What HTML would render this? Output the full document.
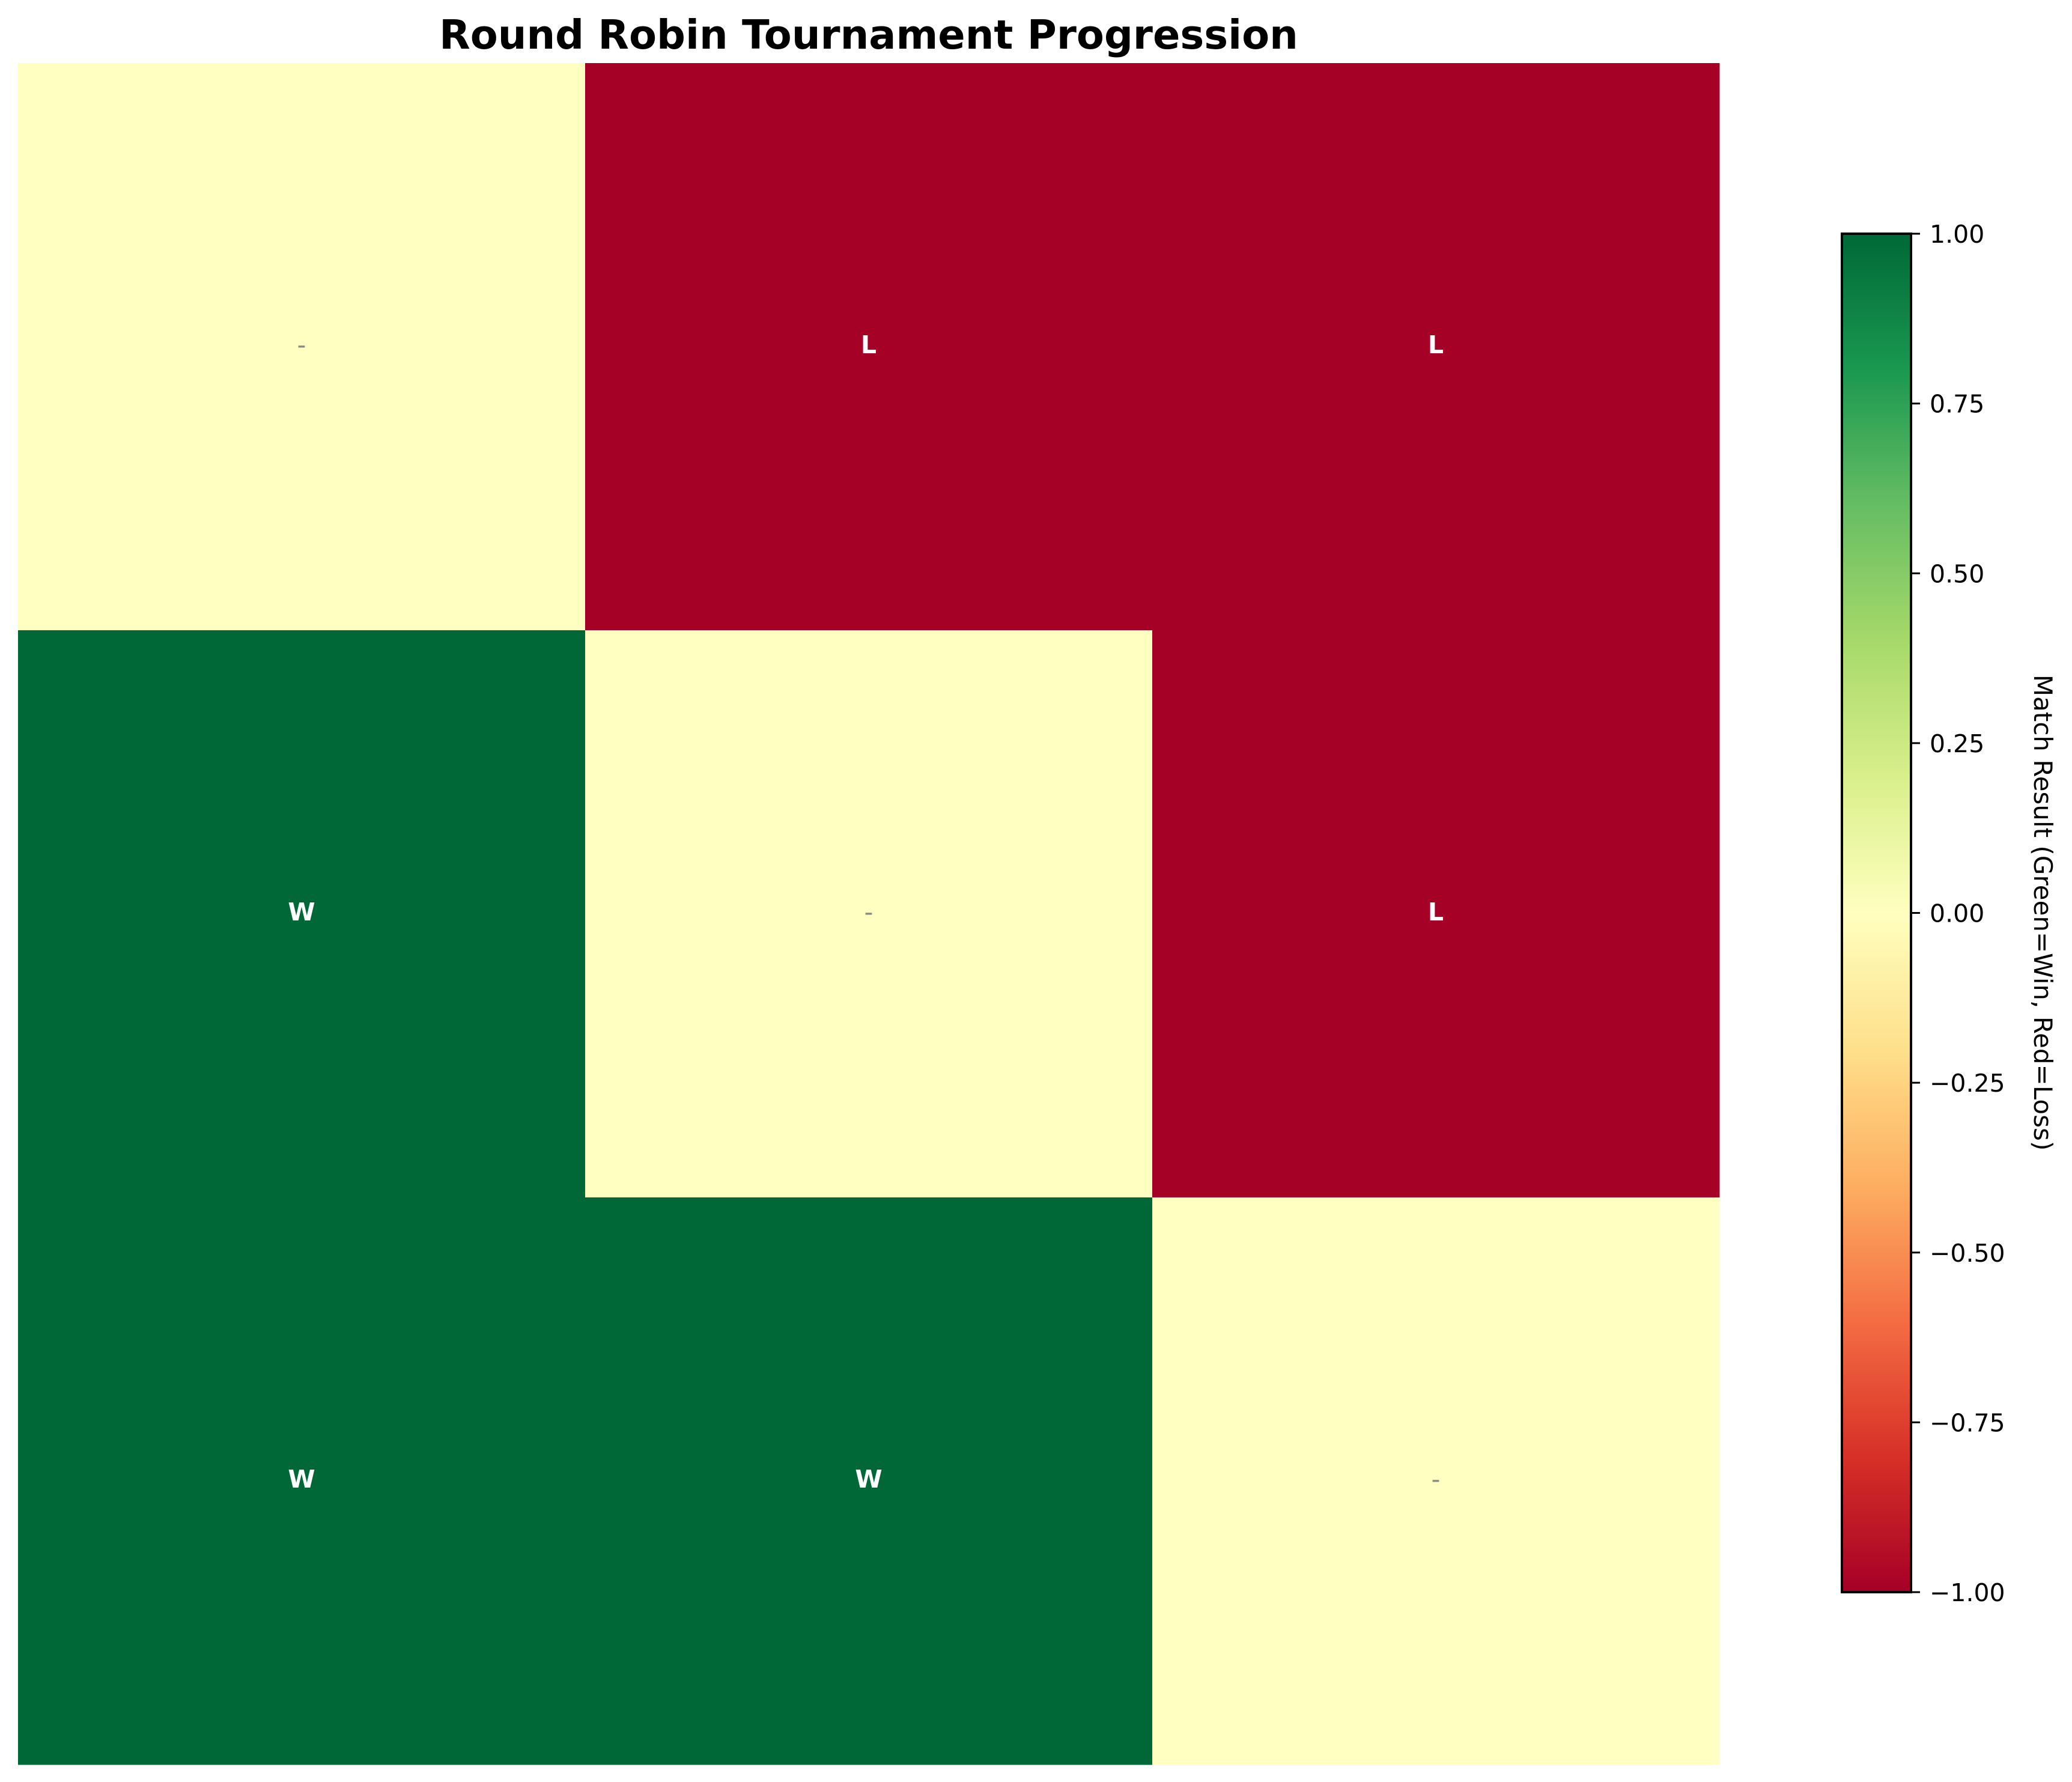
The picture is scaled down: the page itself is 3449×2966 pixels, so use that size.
<!DOCTYPE html>
<html><head><meta charset="utf-8"><style>
html,body{margin:0;padding:0;background:#fff;}
svg{display:block;font-family:"DejaVu Sans","Liberation Sans",sans-serif;}
</style></head><body>
<svg id="chart" width="3449" height="2966" viewBox="0 0 3449 2966" xmlns="http://www.w3.org/2000/svg">
<defs>
<linearGradient id="rdylgn" x1="0" y1="1" x2="0" y2="0">
<stop offset="0" stop-color="#a50026"/><stop offset="0.1" stop-color="#d73027"/>
<stop offset="0.2" stop-color="#f46d43"/><stop offset="0.3" stop-color="#fdae61"/>
<stop offset="0.4" stop-color="#fee08b"/><stop offset="0.5" stop-color="#ffffbf"/>
<stop offset="0.6" stop-color="#d9ef8b"/><stop offset="0.7" stop-color="#a6d96a"/>
<stop offset="0.8" stop-color="#66bd63"/><stop offset="0.9" stop-color="#1a9850"/>
<stop offset="1" stop-color="#006837"/>
</linearGradient>
</defs>
<text x="1446" y="81" text-anchor="middle" font-size="67" font-weight="bold">Round Robin Tournament Progression</text>
<g id="cells"></g>
<g id="cbar">
<rect x="3066" y="389" width="115" height="2261" fill="url(#rdylgn)" stroke="#000" stroke-width="4"/>
</g>
<text transform="translate(3386,1519) rotate(90)" text-anchor="middle" font-size="42">Match Result (Green=Win, Red=Loss)</text>
</svg>
<script>
const rows = [0, 1, 2];
const cols = [0, 1, 2];
const values = [[0, -1, -1], [1, 0, -1], [1, 1, 0]];
const labels = [["-", "L", "L"], ["W", "-", "L"], ["W", "W", "-"]];
const cbarTicks = [-1, -0.75, -0.5, -0.25, 0, 0.25, 0.5, 0.75, 1];

const NS = "http://www.w3.org/2000/svg";
const X0 = 30, X1 = 2862, Y0 = 105, Y1 = 2937;
const cw = (X1 - X0) / cols.length, ch = (Y1 - Y0) / rows.length;
const xPos = c => X0 + c * cw;
const yPos = r => Y0 + r * ch;
const CB0 = 389, CB1 = 2650;
const cbY = v => CB1 - (v + 1) / 2 * (CB1 - CB0);
function color(v) {
  if (v >= 0.5) return "#006837";
  if (v <= -0.5) return "#a50026";
  return "#feffc0";
}
const g = document.getElementById("cells");
rows.forEach(r => cols.forEach(c => {
  const v = values[r][c];
  const rect = document.createElementNS(NS, "rect");
  
  
  rect.setAttribute("x", xPos(c)); rect.setAttribute("y", yPos(r));
  rect.setAttribute("width", cw + 0.5); rect.setAttribute("height", ch + 0.5);
  rect.setAttribute("fill", color(v));
  g.appendChild(rect);
  const t = document.createElementNS(NS, "text");
  
  
  const isDash = labels[r][c] === "-";
  t.setAttribute("x", xPos(c) + cw / 2);
  t.setAttribute("y", yPos(r) + ch / 2 + 11);
  t.setAttribute("text-anchor", "middle");
  t.setAttribute("font-size", "41");
  t.setAttribute("font-weight", isDash ? "normal" : "bold");
  t.setAttribute("fill", isDash ? "#888888" : "#ffffff");
  t.textContent = labels[r][c];
  g.appendChild(t);
}));
const cb = document.getElementById("cbar");
cbarTicks.forEach(v => {
  const y = cbY(v);
  const l = document.createElementNS(NS, "line");
  
  
  l.setAttribute("x1", 3181); l.setAttribute("x2", 3196);
  l.setAttribute("y1", y); l.setAttribute("y2", y);
  l.setAttribute("stroke", "#000"); l.setAttribute("stroke-width", "3");
  cb.appendChild(l);
  const t = document.createElementNS(NS, "text");
  
  
  t.setAttribute("x", 3212);
  t.setAttribute("y", y + 15);
  t.setAttribute("font-size", "41");
  t.textContent = (v < 0 ? "\u2212" : "") + Math.abs(v).toFixed(2);
  cb.appendChild(t);
});
</script>
</body></html>
